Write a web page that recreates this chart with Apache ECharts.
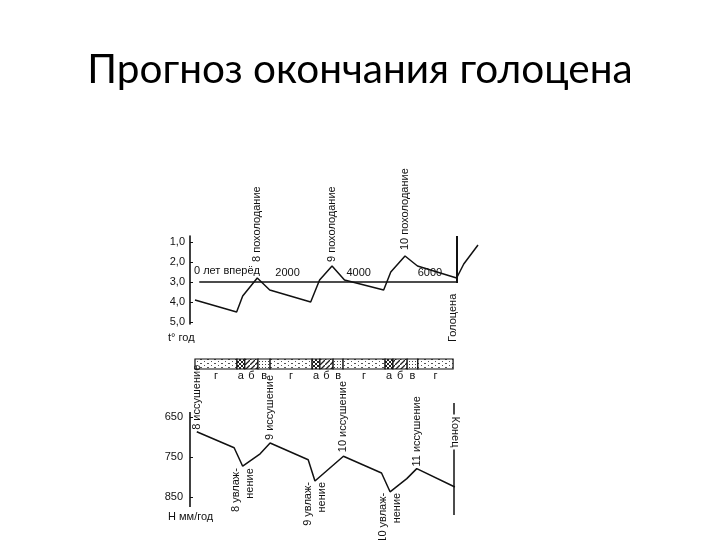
<!DOCTYPE html>
<html><head><meta charset="utf-8">
<script src="https://cdn.jsdelivr.net/npm/echarts@6/dist/echarts.min.js"></script>
<style>html,body{margin:0;padding:0;background:#fff}#c{width:720px;height:540px}</style>
</head><body><div id="c"></div>
<script>
// ---- Data ----
const tempYears  = [-600, 570, 740, 1150, 1500, 2650, 2900, 3250, 3600, 4700, 4900, 5300, 5650, 6750, 6950, 7350];
const tempValues = [3.9, 4.5, 3.7, 2.8, 3.4, 4.0, 2.9, 2.2, 2.9, 3.4, 2.5, 1.7, 2.2, 2.8, 2.1, 1.15];
const tempTicks  = [1, 2, 3, 4, 5];
const timeTicks  = [2000, 4000, 6000];
const coolingNotes = ['8 похолодание', '9 похолодание', '10 похолодание'];
const coolingIdx   = [3, 7, 11];

const precYears  = [-550, 500, 740, 1230, 1510, 2580, 2770, 3570, 4640, 4880, 5350, 5630, 6700];
const precValues = [687, 727, 773, 742, 715, 757, 810, 748, 790, 837, 804, 779, 825];
const precTicks  = [650, 750, 850];
const dryNotes = ['8 иссушение', '9 иссушение', '10 иссушение', '11 иссушение'];
const dryIdx   = [0, 4, 7, 11];
const wetNotes = ['8 увлаж-\nнение', '9 увлаж-\nнение', '10 увлаж-\nнение'];
const wetIdx   = [2, 6, 9];

const phaseEdges = [-600, 580, 800, 1170, 1510, 2690, 2910, 3280, 3560, 4740, 4960, 5360, 5660, 6650];
const phaseNames = ['г','а','б','в','г','а','б','в','г','а','б','в','г'];
const holoceneYear = 6750;
const endYear = 6680;

// ---- Styles / layout ----
const FONT = 'Liberation Sans';
const INK = '#111';
const X_MIN = -740, X_MAX = 7350;
const coolDist = [16, 4, 6];
const dryDist  = [2, 3, 4, 2];
const wetDist  = [2, 1, 1];

function pat(w, h, draw) {
  const c = document.createElement('canvas'); c.width = w; c.height = h;
  const g = c.getContext('2d'); g.fillStyle = '#fff'; g.fillRect(0, 0, w, h);
  g.fillStyle = '#333'; g.strokeStyle = '#222'; draw(g);
  return { image: c, repeat: 'repeat' };
}
const patterns = {
  'г': pat(7, 4, g => { g.fillStyle = '#555'; g.fillRect(1, 1, 1, 1); g.fillRect(4, 3, 2, 1); }),
  'а': pat(4, 4, g => { g.lineWidth = 1; g.beginPath(); g.moveTo(0, 0); g.lineTo(4, 4); g.moveTo(4, 0); g.lineTo(0, 4); g.stroke(); }),
  'б': pat(5, 5, g => { g.lineWidth = 1.3; g.beginPath(); g.moveTo(-1, 6); g.lineTo(6, -1); g.stroke(); }),
  'в': pat(3, 3, g => { g.fillStyle = '#444'; g.fillRect(1, 1, 1, 1); })
};

const tempData = tempYears.map((t, i) => {
  const item = { value: [t, tempValues[i]] };
  const k = coolingIdx.indexOf(i);
  if (k >= 0) item.label = { show: true, formatter: coolingNotes[k], position: 'top', distance: coolDist[k],
    rotate: 90, align: 'left', verticalAlign: 'middle' };
  return item;
});
const precData = precYears.map((t, i) => {
  const item = { value: [t, precValues[i]] };
  let k = dryIdx.indexOf(i);
  if (k >= 0) item.label = { show: true, formatter: dryNotes[k], position: 'top', distance: dryDist[k],
    rotate: 90, align: 'left', verticalAlign: 'middle' };
  k = wetIdx.indexOf(i);
  if (k >= 0) item.label = { show: true, formatter: wetNotes[k], position: 'bottom', distance: wetDist[k],
    rotate: 90, align: 'right', verticalAlign: 'middle', lineHeight: 14 };
  return item;
});
const phaseData = phaseNames.map((p, i) => [phaseEdges[i], phaseEdges[i + 1], i]);

const labelBase = { fontFamily: FONT, fontSize: 11, color: INK };
const solid = (w) => ({ color: INK, width: w, type: 'solid' });

const chart = echarts.init(document.getElementById('c'), null, { renderer: 'canvas' });
chart.setOption({
  animation: false,
  backgroundColor: '#fff',
  title: { text: 'Прогноз окончания голоцена', left: 'center', top: 44,
    textStyle: { fontFamily: 'Lato', fontSize: 40.5, fontWeight: 'normal', color: '#000' } },
  grid: [
    { left: 190, width: 288, top: 236, height: 88 },
    { left: 190, width: 288, top: 359, height: 10 },
    { left: 190, width: 288, top: 403, height: 112 }
  ],
  xAxis: [
    { gridIndex: 0, type: 'value', min: X_MIN, max: X_MAX, position: 'top', offset: -46,
      axisLine: { show: false }, axisTick: { show: false }, splitLine: { show: false },
      axisLabel: Object.assign({ customValues: timeTicks, margin: 4, formatter: v => String(v) }, labelBase) },
    { gridIndex: 1, type: 'value', min: X_MIN, max: X_MAX, show: false },
    { gridIndex: 2, type: 'value', min: X_MIN, max: X_MAX, show: false }
  ],
  yAxis: [
    { gridIndex: 0, type: 'value', inverse: true, min: 0.7, max: 5.1,
      axisLine: { show: true, onZero: false, lineStyle: { color: INK, width: 1.6 } },
      axisTick: { show: true, inside: true, length: 3, customValues: tempTicks, lineStyle: { color: INK } },
      axisLabel: Object.assign({ customValues: tempTicks, margin: 5,
        formatter: v => v.toFixed(1).replace('.', ',') }, labelBase),
      splitLine: { show: false } },
    { gridIndex: 1, type: 'value', min: 0, max: 1, show: false },
    { gridIndex: 2, type: 'value', inverse: true, min: 615, max: 895,
      axisLine: { show: false, onZero: false },
      axisTick: { show: true, inside: true, length: 3, customValues: precTicks, lineStyle: { color: INK } },
      axisLabel: Object.assign({ customValues: precTicks, margin: 7 }, labelBase),
      splitLine: { show: false } }
  ],
  series: [
    { type: 'line', xAxisIndex: 0, yAxisIndex: 0, data: tempData, symbol: 'circle', symbolSize: 0,
      showSymbol: true, lineStyle: { color: INK, width: 1.5 }, label: labelBase,
      markLine: { silent: true, symbol: 'none', label: { show: false },
        data: [
          [{ coord: [-480, 3], lineStyle: solid(1.5) }, { coord: [holoceneYear, 3] }],
          [{ coord: [holoceneYear, 0.7], lineStyle: solid(2) }, { coord: [holoceneYear, 3.05] }]
        ] } },
    { type: 'custom', xAxisIndex: 1, yAxisIndex: 1, data: phaseData, clip: false,
      renderItem: (params, api) => {
        const s = api.coord([api.value(0), 1]);
        const e = api.coord([api.value(1), 0]);
        const name = phaseNames[api.value(2)];
        return { type: 'group', children: [
          { type: 'rect', shape: { x: s[0], y: s[1], width: e[0] - s[0], height: e[1] - s[1] },
            style: { fill: patterns[name], stroke: INK, lineWidth: 1.2 } },
          { type: 'text', style: { text: name, x: (s[0] + e[0]) / 2, y: e[1] + 7, align: 'center',
            verticalAlign: 'middle', fontFamily: FONT, fontSize: 11, fill: INK } }
        ] };
      } },
    { type: 'line', xAxisIndex: 2, yAxisIndex: 2, data: precData, symbol: 'circle', symbolSize: 0,
      showSymbol: true, lineStyle: { color: INK, width: 1.5 }, label: Object.assign({ lineHeight: 14 }, labelBase),
      markLine: { silent: true, symbol: 'none', label: { show: false },
        data: [
          [{ coord: [X_MIN, 637.5], lineStyle: solid(1.6) }, { coord: [X_MIN, 875] }],
          [{ coord: [endYear, 615], lineStyle: solid(1.5) }, { coord: [endYear, 895] }]
        ] } }
  ],
  graphic: [
    { type: 'text', z: 100, x: 194, y: 271, style: { text: '0 лет вперёд', fontFamily: FONT, fontSize: 11, fill: INK, textAlign: 'left', textVerticalAlign: 'middle' } },
    { type: 'text', z: 100, x: 168, y: 338, style: { text: 't° год', fontFamily: FONT, fontSize: 11, fill: INK, textAlign: 'left', textVerticalAlign: 'middle' } },
    { type: 'text', z: 100, x: 168, y: 517, style: { text: 'Н мм/год', fontFamily: FONT, fontSize: 11, fill: INK, textAlign: 'left', textVerticalAlign: 'middle' } },
    { type: 'text', z: 100, x: 453, y: 342, rotation: Math.PI / 2, style: { text: 'Голоцена', fontFamily: FONT, fontSize: 11, fill: INK, textAlign: 'left', textVerticalAlign: 'middle' } },
    { type: 'text', z: 100, x: 455, y: 432, rotation: -Math.PI / 2, style: { text: 'Конец', fontFamily: FONT, fontSize: 11, fill: INK, textAlign: 'center', textVerticalAlign: 'middle', backgroundColor: '#fff', padding: [0, 2] } }
  ]
});
</script></body></html>
